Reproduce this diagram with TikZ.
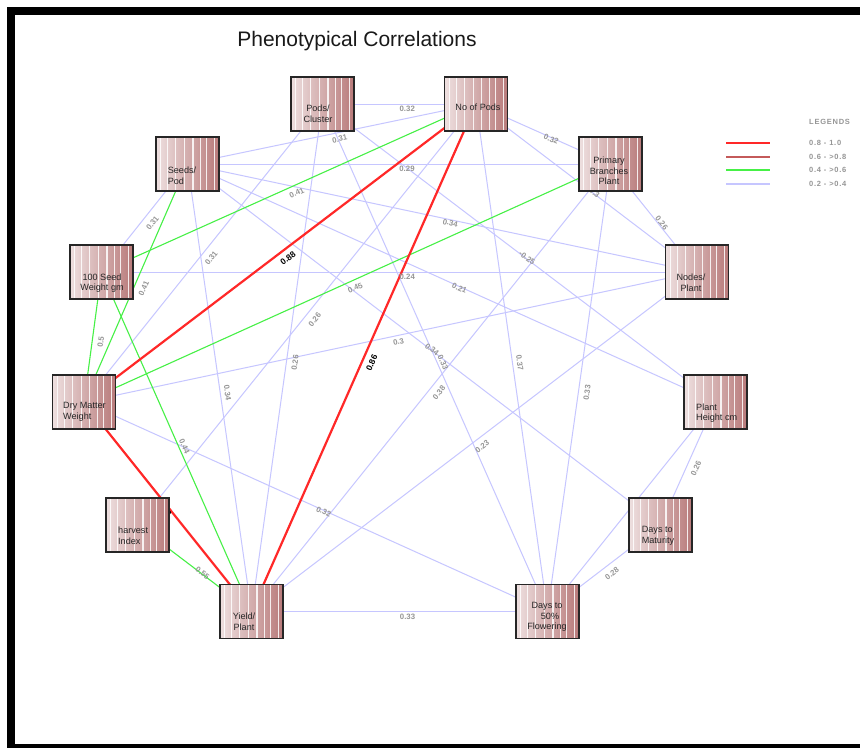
\documentclass[tikz,border=0pt]{standalone}
\usepackage{fontspec}
\setmainfont{Liberation Sans}
\usetikzlibrary{calc,backgrounds}
\pgfdeclarelayer{paper}
\pgfsetlayers{paper,background,main}
\definecolor{boxL}{RGB}{238,224,224}
\definecolor{boxR}{RGB}{184,122,122}
\definecolor{edgeRed}{RGB}{255,40,40}
\definecolor{edgeDark}{RGB}{196,90,90}
\definecolor{edgeGreen}{RGB}{70,240,70}
\definecolor{edgeLav}{RGB}{198,198,255}
\definecolor{labGray}{RGB}{150,150,150}
\begin{document}
\begin{tikzpicture}[x=1pt,y=-1pt,
  cbox/.style={draw=black!85, line width=1.3pt, minimum width=63pt, minimum height=54pt,
    inner sep=0pt, left color=boxL, right color=boxR,
    path picture={
      \foreach \o/\w in {4/0.8,11/1.4,19/0.6,28/1.2,36/1.6,44/0.6,50/1.1,58/1.4}
        \fill[white,opacity=0.85]
          ([xshift=\o pt]path picture bounding box.south west) rectangle
          ([xshift={(\o+\w)*1pt}]path picture bounding box.north west);
    }},
  ntext/.style={font=\fontsize{9.1}{10.6}\selectfont, text=black!85, inner sep=0pt},
  r08/.style={draw=edgeRed, line width=2.2pt},
  r06/.style={draw=edgeDark, line width=2.2pt},
  r04/.style={draw=edgeGreen, line width=1.1pt},
  r02/.style={draw=edgeLav, line width=1pt},
  elab/.style={font=\fontsize{7.8}{8}\selectfont\bfseries, text=labGray, inner sep=0.3pt},
  blab/.style={font=\fontsize{8.5}{9}\selectfont\bfseries, text=black, inner sep=0.3pt},
  leg/.style={font=\fontsize{7.5}{8}\selectfont\bfseries\addfontfeatures{LetterSpace=10}, text=labGray, inner sep=0pt, anchor=west},
]
\useasboundingbox (0,0) rectangle (860,748);
\begin{pgfonlayer}{paper}
  \fill[white] (0,0) rectangle (860,748);
\end{pgfonlayer}

% frame
\fill[black] (7,7) rectangle (860,15);
\fill[black] (7,7) rectangle (15,748);
\fill[black] (7,744) rectangle (860,748);

% title
\node[font=\fontsize{21}{24}\selectfont, text=black!90] (title) at (357,41) {Phenotypical Correlations};

% trait boxes
\node[cbox] (PC) at (322.5,104) {};
\node[cbox] (NP) at (476,104) {};
\node[cbox] (PB) at (610.5,164) {};
\node[cbox] (NO) at (697,272) {};
\node[cbox] (PH) at (715.5,402) {};
\node[cbox] (DM) at (660.5,525) {};
\node[cbox] (DF) at (547.5,611.5) {};
\node[cbox] (YP) at (251.5,611.5) {};
\node[cbox] (HI) at (137.5,525) {};
\node[cbox] (DW) at (84,402) {};
\node[cbox] (SW) at (101.5,272) {};
\node[cbox] (SP) at (187.5,164) {};

% trait names
\node[ntext, align=center] (PCt) at (318,114) {Pods/\\ Cluster};
\node[ntext] (NPt) at (478,107) {No of Pods};
\node[ntext, align=center] (PBt) at (609,171) {Primary\\Branches\\Plant};
\node[ntext, align=center] (NOt) at (691,283) {Nodes/\\Plant};
\node[ntext, align=left, anchor=west] (PHt) at (696,413) {Plant\\Height cm};
\node[ntext, align=left] (DMt) at (658,536) {Days to\\Maturity};
\node[ntext, align=center] (DFt) at (547,617) {Days to\\\hspace{6pt}50\%\\Flowering};
\node[ntext, align=center] (YPt) at (244,622) {Yield/\\Plant};
\node[ntext, align=left, anchor=west] (HIt) at (118,536) {harvest\\Index};
\node[ntext, align=left, anchor=west] (DWt) at (63,412) {Dry Matter\\Weight};
\node[ntext, align=center] (SWt) at (102,283) {100 Seed\\Weight gm};
\node[ntext, align=left] (SPt) at (182,176) {Seeds/\\ Pod};

\begin{pgfonlayer}{background}
  % weak correlations 0.2 - 0.4
  \foreach \a/\b/\t in {PC/NP/0.32, SP/NP/0.31, NP/PB/0.32, SP/PB/0.29, SP/SW/0.31,
      PC/DW/0.31, SP/NO/0.34, SW/NO/0.24, PC/PH/-0.25, SP/PH/0.21, HI/NP/0.26,
      PC/YP/0.26, DW/NO/0.3, PC/DF/0.33, SP/DM/0.34, PB/YP/0.38, NP/DF/0.37,
      YP/NO/0.23, PB/DF/0.33, PB/NO/0.26, NP/NO/0.3, PH/DM/0.26, DM/DF/0.28,
      YP/DF/0.33, DW/DF/0.32, SP/YP/0.34, DF/PH/0.27}
  {
    \draw[r02] (\a.center) -- (\b.center);
  }
  % moderate correlations 0.4 - 0.6
  \foreach \a/\b/\t in {SP/DW/0.41, NP/SW/0.41, SW/DW/0.5, PB/DW/0.45, SW/YP/0.44, HI/YP/0.55}
  {
    \draw[r04] (\a.center) -- (\b.center);
  }
  % strong correlations 0.8 - 1.0
  \foreach \a/\b/\t in {DW/NP/0.88, YP/NP/0.86, DW/YP/0.89}
  {
    \draw[r08] (\a.center) -- (\b.center);
  }
  % coefficient labels
  \foreach \a/\b/\t in {PC/NP/0.32, SP/NP/0.31, NP/PB/0.32, SP/PB/0.29, SP/SW/0.31,
      PC/DW/0.31, SP/NO/0.34, SW/NO/0.24, PC/PH/-0.25, SP/PH/0.21, HI/NP/0.26,
      PC/YP/0.26, DW/NO/0.3, PC/DF/0.33, SP/DM/0.34, PB/YP/0.38, NP/DF/0.37,
      YP/NO/0.23, PB/DF/0.33, PB/NO/0.26, NP/NO/0.3, PH/DM/0.26, DM/DF/0.28,
      YP/DF/0.33, DW/DF/0.32, SP/YP/0.34, DF/PH/0.27,
      SP/DW/0.41, NP/SW/0.41, SW/DW/0.5, PB/DW/0.45, SW/YP/0.44, HI/YP/0.55}
  {
    \path ($(\a.center)+(8,5)$) -- ($(\b.center)+(8,5)$) node[midway, sloped, elab] {\t};
  }
  \foreach \a/\b/\t in {DW/NP/0.88, YP/NP/0.86}
  {
    \path ($(\a.center)+(8,5)$) -- ($(\b.center)+(8,5)$) node[midway, sloped, blab] {\t};
  }
  % this coefficient sits mostly under the harvest index box
  \path ($(DW.center)+(-3,2)$) -- ($(YP.center)+(-3,2)$) node[midway, sloped, blab] {0.89};
\end{pgfonlayer}

% legend
\node[leg] (legT) at (809,122) {LEGENDS};
\coordinate (l1a) at (726,143); \coordinate (l1b) at (770,143);
\coordinate (l2a) at (726,157); \coordinate (l2b) at (770,157);
\coordinate (l3a) at (726,170); \coordinate (l3b) at (770,170);
\coordinate (l4a) at (726,184); \coordinate (l4b) at (770,184);
\draw[r08] (l1a) -- (l1b);
\draw[r06] (l2a) -- (l2b);
\draw[r04] (l3a) -- (l3b);
\draw[r02, line width=1.5pt] (l4a) -- (l4b);
\node[leg] (leg1) at (809,143) {0.8 - 1.0};
\node[leg] (leg2) at (809,157) {0.6 - >0.8};
\node[leg] (leg3) at (809,170) {0.4 - >0.6};
\node[leg] (leg4) at (809,184) {0.2 - >0.4};
\end{tikzpicture}
\end{document}
